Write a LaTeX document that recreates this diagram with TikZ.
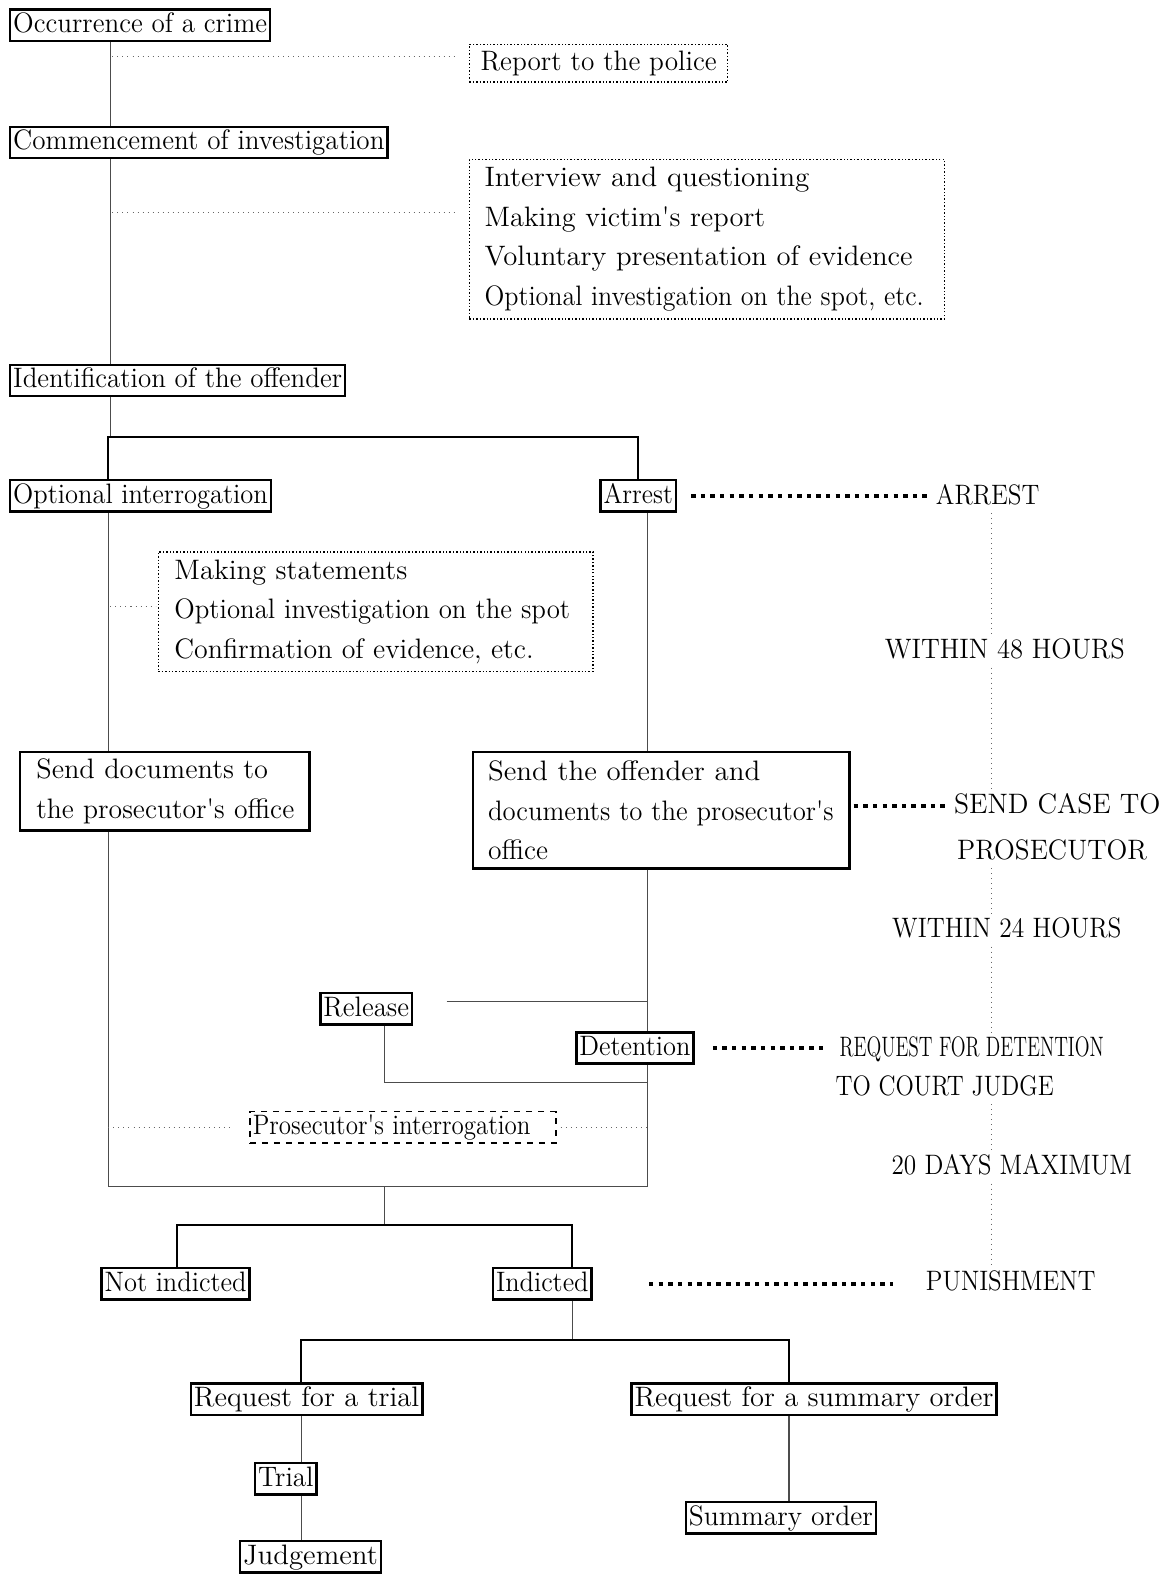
\documentclass[tikz,border=0pt]{standalone}
\usepackage{graphicx}
\usetikzlibrary{calc}
\tikzstyle{box}=[draw,line width=1.2pt,inner xsep=1.5pt,inner ysep=1.2pt,text height=10.3pt,text depth=2.9pt,anchor=west]
\tikzstyle{tall}=[draw,line width=1.2pt,align=left,anchor=north west,inner xsep=7.5pt]
\tikzstyle{note}=[draw,densely dotted,line width=0.7pt,align=left,anchor=north west,inner xsep=7.5pt]
\tikzstyle{timelbl}=[inner xsep=0pt,inner ysep=1.2pt,text height=10.3pt,text depth=2.9pt]
\tikzstyle{conn} = [draw,line width=0.6pt,black!70]
\tikzstyle{branch} = [draw,line width=1pt,black]
\tikzstyle{side} = [draw,dotted,line width=0.5pt,black!60]
\tikzstyle{link} = [draw,line width=2.2pt,dash pattern=on 2.2pt off 2.6pt]
\newcommand{\squeeze}[2]{\scalebox{#1}[1]{#2}}
\newcommand{\q}{\textquotesingle}

\begin{document}
\begin{tikzpicture}[x=0.5pt,y=-0.5pt,every node/.style={font=\fontsize{14}{19.7}\selectfont}]
    \useasboundingbox (0,0) rectangle (1164,1568);
    % Helper coordinates for the vertical lines and forks
    \coordinate (sp1) at (110,0);
    \coordinate (sp2) at (108,0);
    \coordinate (rx) at (645,0);
    \coordinate (fork1) at (0,435);
    \coordinate (bot) at (0,1182);
    \coordinate (fork2) at (0,1220);
    \coordinate (fork3) at (0,1335);
    \coordinate (ni) at (176,0);
    \coordinate (in) at (570,0);
    \coordinate (tr) at (300,0);
    \coordinate (so) at (786,0);
    \coordinate (tl) at (988,0);

    % First the steps of the procedure
    \foreach \pos/\name/\sx/\txt in {{(9,25)/occ/0.963/Occurrence of a crime}, {(9,142)/comm/0.965/Commencement of investigation},
        {(9,379)/ident/0.96/Identification of the offender}, {(9,494)/optint/0.943/Optional interrogation},
        {(597,494)/arrest/0.915/Arrest}, {(318,1005)/release/0.961/Release}, {(573,1044)/detention/0.94/Detention},
        {(100,1279)/notind/0.943/Not indicted}, {(490,1279)/ind/0.938/Indicted}, {(189,1394)/reqtrial/1.021/Request for a trial},
        {(628,1394)/reqsum/1.016/Request for a summary order}, {(253,1473)/trial/0.966/Trial},
        {(238,1551)/judg/1.027/Judgement}, {(682,1512)/sumord/0.982/Summary order}}
        \node[box] (\name) at \pos {\squeeze{\sx}{\txt}};

    \node[tall,text width=128pt,minimum height=39pt,inner xsep=8pt] (senddoc) at (19,748)
        {\squeeze{1.008}{Send documents to}\\\squeeze{0.984}{the prosecutor\q s office}};
    \node[tall,text width=172.5pt,minimum height=58pt] (sendoff) at (470,748)
        {\squeeze{1.03}{Send the offender and}\\\squeeze{0.951}{documents to the prosecutor\q s}\\\squeeze{0.98}{office}};
    \node[box,dashed,line width=0.8pt,text width=149.5pt] (prosint) at (248,1123) {\squeeze{0.89}{Prosecutor\q s interrogation}};

    % Dotted notes beside the spine
    \node[note,anchor=west,inner xsep=5.5pt,inner ysep=2.8pt,text height=10.3pt,text depth=2.9pt] (report) at (467,63)
        {\squeeze{0.97}{Report to the police}};
    \node[note,text width=221.5pt,minimum height=79.5pt] (measures) at (467,158)
        {\squeeze{1.04}{Interview and questioning}\\\squeeze{1.012}{Making victim\q s report}\\
         \squeeze{1.022}{Voluntary presentation of evidence}\\\squeeze{0.927}{Optional investigation on the spot, etc.}};
    \node[note,text width=200.5pt,minimum height=59.5pt,inner xsep=8pt] (stmts) at (157,549)
        {\squeeze{1.017}{Making statements}\\\squeeze{0.956}{Optional investigation on the spot}\\\squeeze{0.994}{Confirmation of evidence, etc.}};

    % Time limits on the right
    \node[timelbl,anchor=west] (arrlbl) at (932,495) {\squeeze{0.90}{ARREST}};
    \node[timelbl] (w48) at (1001,649) {\squeeze{0.947}{WITHIN 48 HOURS}};
    \node[timelbl,anchor=west] (sc1) at (950,803) {\squeeze{0.984}{SEND CASE TO}};
    \node[timelbl] (sc2) at (1048,849) {\squeeze{0.97}{PROSECUTOR}};
    \node[timelbl] (w24) at (1003,927) {\squeeze{0.905}{WITHIN 24 HOURS}};
    \node[timelbl,anchor=west] (reqdet) at (836,1045) {\squeeze{0.69}{REQUEST FOR DETENTION}};
    \node[timelbl,anchor=west] (reqjudge) at (832,1084) {\squeeze{0.854}{TO COURT JUDGE}};
    \node[timelbl] (d20) at (1008,1163) {\squeeze{0.898}{20 DAYS MAXIMUM}};
    \node[timelbl,anchor=west] (punish) at (922,1278) {\squeeze{0.891}{PUNISHMENT}};

    % Connect the steps
    \path[conn] (occ.south -| sp1) -- (comm.north -| sp1);
    \path[conn] (comm.south -| sp1) -- (ident.north -| sp1);
    \path[conn] (ident.south -| sp1) -- (sp1 |- fork1);
    \path[branch] (optint.north -| sp2) |- (fork1 -| arrest.north) -- (arrest.north);
    \path[conn] (optint.south -| sp2) -- (senddoc.north -| sp2);
    \path[conn] (senddoc.south -| sp2) |- (bot -| rx);
    \path[conn] (arrest.south -| rx) -- (sendoff.north -| rx);
    \path[conn] (sendoff.south -| rx) -- (detention.north -| rx);
    \path[conn] (detention.south -| rx) -- (bot -| rx);
    \coordinate (rel1) at (445,998);
    \coordinate (rel2) at (383,1078);
    \path[conn] (rel1) -- (rel1 -| rx);
    \path[conn] (release.south -| rel2) |- (rel2 -| rx);
    \coordinate (mid) at (383,1182);
    \path[conn] (mid) -- (mid |- fork2);
    \path[branch] (notind.north -| ni) |- (fork2 -| in) -- (ind.north -| in);
    \path[conn] (ind.south -| in) -- (in |- fork3);
    \path[branch] (reqtrial.north -| tr) |- (fork3 -| so) -- (reqsum.north -| so);
    \path[conn] (reqtrial.south -| tr) -- (trial.north -| tr);
    \path[conn] (trial.south -| tr) -- (judg.north -| tr);
    \path[conn] (reqsum.south -| so) -- (sumord.north -| so);

    % Dotted lines to the notes
    \coordinate (n1) at (112,56);
    \coordinate (n2) at (112,212);
    \coordinate (n3) at (110,604);
    \path[side,shorten >=6pt] (n1) -- (n1 -| report.west);
    \path[side,shorten >=6pt] (n2) -- (n2 -| measures.west);
    \path[side,shorten >=1pt] (n3) -- (n3 -| stmts.west);
    \path[side,shorten >=9pt] (prosint.west -| sp2) -- (prosint.west);
    \path[side,shorten <=2pt] (prosint.east) -- (prosint.east -| rx);

    % Thick dotted links to the time limits
    \path[link,shorten <=7pt,shorten >=2pt] (arrest.east) -- (arrest.east -| arrlbl.west);
    \path[link,shorten <=1.5pt,shorten >=2.5pt] (sendoff.east |- sc1) -- (sc1.west);
    \path[link,shorten <=9pt,shorten >=8pt] (detention.east) -- (detention.east -| reqdet.west);
    \path[link,shorten <=28pt,shorten >=16pt] (ind.east) -- (ind.east -| punish.west);

    % Time line
    \foreach \a/\b in {arrlbl/w48, w48/sc1, sc2/w24, w24/reqdet, reqjudge/d20, d20/punish}
        \path[side] (\a.south -| tl) -- (\b.north -| tl);
\end{tikzpicture}
\end{document}
